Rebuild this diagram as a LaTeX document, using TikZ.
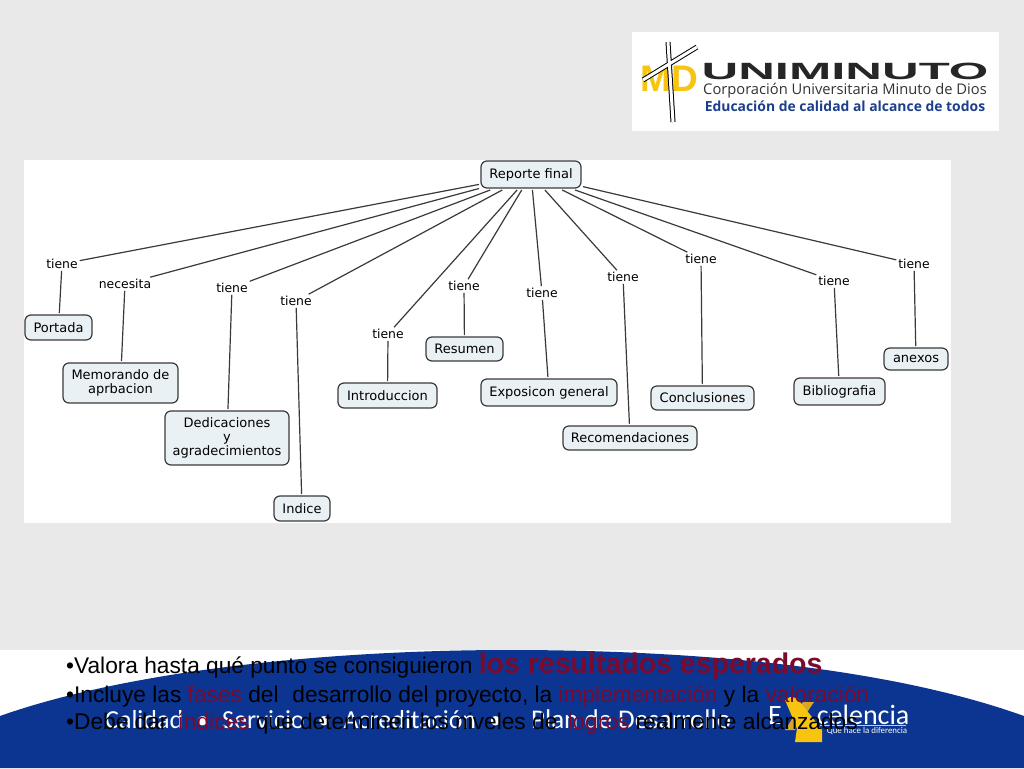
\documentclass[tikz,border=0pt]{standalone}
\usepackage{fontspec}
\setmainfont{Liberation Sans}
\newfontfamily\mapfont{DejaVu Sans}
\newfontfamily\footfont{Carlito}
\newfontfamily\logofont{Open Sans}
\definecolor{slidegray}{HTML}{E9E9E9}
\definecolor{boxfill}{HTML}{EAF1F5}
\definecolor{mapline}{HTML}{3A3A3A}
\definecolor{bandblue}{HTML}{0B3590}
\definecolor{darkred}{HTML}{7A0A2E}
\definecolor{logogold}{HTML}{F7C410}
\definecolor{logodark}{HTML}{D8A528}
\definecolor{logoblue}{HTML}{1C3F8C}
\tikzset{
  concept/.style={draw=mapline, fill=boxfill, line width=1.2pt, rounded corners=6pt,
    align=center, inner sep=0pt, outer sep=2pt, font=\mapfont\fontsize{13}{13.7}\selectfont},
  linkword/.style={inner sep=1pt, outer sep=1pt, font=\mapfont\fontsize{12.4}{14}\selectfont},
  link/.style={draw=mapline, line width=1.2pt},
  bullet/.style={anchor=base west, inner sep=0pt, font=\fontsize{22.7}{26}\selectfont}
}
\begin{document}
\begin{tikzpicture}[x=1pt,y=-1pt]
  \useasboundingbox (0,0) rectangle (1024,768);
  \fill[slidegray] (0,0) rectangle (1024,650);
  \fill[white] (0,650) rectangle (1024,768);
  \fill[white] (24,160) rectangle (951,523);
  \fill[white] (632,32) rectangle (999,131);
  % band
  \fill[bandblue] (0,716) .. controls (130,670) and (330,650) .. (510,650)
    .. controls (700,650) and (890,668) .. (1024,716) -- (1024,768) -- (0,768) -- cycle;
  % logo
  \node (md) [anchor=center, inner sep=0pt, text=logogold, font=\bfseries\fontsize{37}{37}\selectfont] at (669,79) {MD};
  \draw[black, line width=5pt] (668,42) -- (673,122) (643,80) -- (697,47);
  \draw[white, line width=3pt] (668,42) -- (673,122) (643,80) -- (697,47);
  \node (uni) [anchor=center, inner sep=0pt, text=black!85, font=\bfseries\fontsize{23.5}{24}\selectfont] at (845,71.5) {\scalebox{2.16}[1]{UNIMINUTO}};
  \node (corp) [anchor=center, inner sep=0pt, text=black!80, font=\logofont\fontsize{14.7}{15}\selectfont] at (845,91) {Corporación Universitaria Minuto de Dios};
  \node (edu) [anchor=center, inner sep=0pt, text=logoblue, font=\logofont\bfseries\fontsize{13.9}{15}\selectfont] at (845,106) {Educación de calidad al alcance de todos};
  % concept map
  \node (root) [concept, minimum width=100pt, minimum height=27pt] at (531,174.5) {Reporte final};
  \node (portada) [concept, minimum width=67pt, minimum height=25pt] at (58.5,327.5) {Portada};
  \node (memo) [concept, minimum width=115pt, minimum height=40pt] at (120.5,383) {Memorando de\\aprbacion};
  \node (dedic) [concept, minimum width=124pt, minimum height=54pt] at (227,438) {Dedicaciones\\y\\agradecimientos};
  \node (indice) [concept, minimum width=56pt, minimum height=25pt] at (302,508.5) {Indice};
  \node (intro) [concept, minimum width=99pt, minimum height=25pt] at (387.5,395.5) {Introduccion};
  \node (resumen) [concept, minimum width=77pt, minimum height=24pt] at (464.5,349) {Resumen};
  \node (expo) [concept, minimum width=136pt, minimum height=27pt] at (549,392.5) {Exposicon general};
  \node (recom) [concept, minimum width=134pt, minimum height=24pt] at (630,438) {Recomendaciones};
  \node (concl) [concept, minimum width=103pt, minimum height=24pt] at (702.5,398) {Conclusiones};
  \node (biblio) [concept, minimum width=91pt, minimum height=27pt] at (839.5,391.5) {Bibliografia};
  \node (anexos) [concept, minimum width=64pt, minimum height=22pt] at (916,359) {anexos};
  \node (t1) [linkword] at (62,264) {tiene};
  \node (t2) [linkword] at (125,284) {necesita};
  \node (t3) [linkword] at (232,288) {tiene};
  \node (t4) [linkword] at (296,301) {tiene};
  \node (t5) [linkword] at (388,334) {tiene};
  \node (t6) [linkword] at (464,286) {tiene};
  \node (t7) [linkword] at (542,293) {tiene};
  \node (t8) [linkword] at (623,277) {tiene};
  \node (t9) [linkword] at (701,259) {tiene};
  \node (t10) [linkword] at (834,281) {tiene};
  \node (t11) [linkword] at (914,264) {tiene};
  \foreach \lw/\cpt in {t1/portada,t2/memo,t3/dedic,t4/indice,t5/intro,t6/resumen,t7/expo,t8/recom,t9/concl,t10/biblio,t11/anexos}{
    \draw[link] (root) -- (\lw);
    \draw[link] (\lw) -- (\cpt);
  }
  % footer
  \node (calidad) [anchor=base west, inner sep=0pt, text=white, font=\footfont\fontsize{26}{27}\selectfont] at (105,728) {Calidad\,\,\,•\,\,\,Servicio\,\,\,•\,\,\,Acreditación\,\,\,•\,\,\,\hspace{16pt}{\fontsize{27}{27}\selectfont Plan de Desarrollo}};
  \fill[logodark] (803,702) -- (814,702) -- (795,730) -- (785,730) -- cycle;
  \fill[logogold] (785,700) -- (790,697) -- (797,698) -- (822,730) -- (822,742) -- (795,742) -- (797,728) -- cycle;
  \node (excel) [anchor=base west, inner sep=0pt, text=white, font=\footfont\fontsize{28}{28}\selectfont] at (768,724.5) {E\hspace{35pt}celencia};
  \draw[logogold!80!white, line width=1pt] (820,725.5) -- (906,725.5);
  \node (lema) [anchor=center, inner sep=0pt, text=white, font=\footfont\fontsize{8.9}{9}\selectfont] at (867,730.5) {Que hace la diferencia};
  % text
  \node (l1) [bullet] at (66,673) {•Valora hasta qué punto se consiguieron \textcolor{darkred}{\bfseries\fontsize{28.5}{28}\selectfont los resultados esperados}};
  \node (l2) [bullet] at (66,702) {•Incluye las \textcolor{darkred}{fases} del\,\, desarrollo del proyecto, la \textcolor{darkred}{implementación} y la \textcolor{darkred}{valoración}};
  \node (l3) [bullet] at (66,729) {•Debe dar\, \textcolor{darkred}{índices} que determinen los niveles de\, \textcolor{darkred}{logros} realmente alcanzados};
\end{tikzpicture}
\end{document}
